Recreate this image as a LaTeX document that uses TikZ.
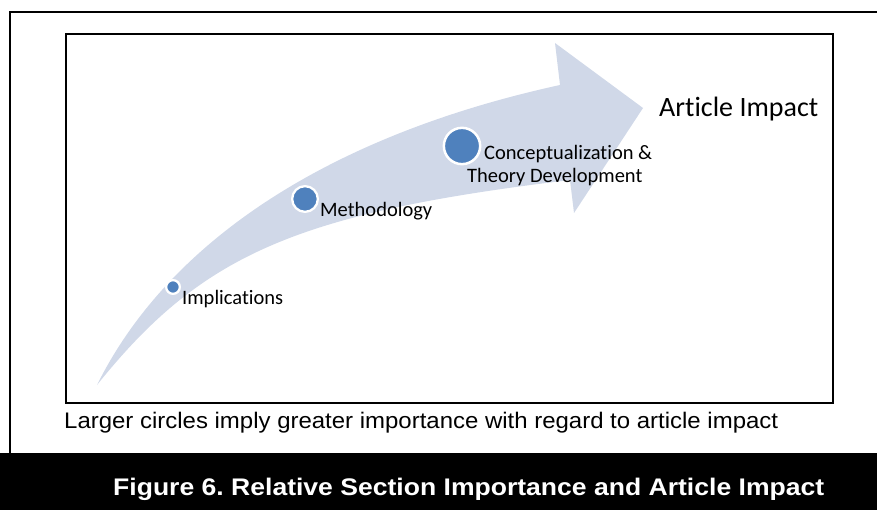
\documentclass[tikz,border=0pt]{standalone}
\usepackage{fontspec}
\usepackage{graphicx}
\newfontfamily\calibrif[RawFeature={-liga}]{Carlito}
\newfontfamily\arialf{Liberation Sans}
\definecolor{bandcol}{HTML}{D0D8E8}
\definecolor{dotcol}{HTML}{4F81BD}
\frenchspacing
\begin{document}
\begin{tikzpicture}[x=1pt,y=-1pt,
  frame/.style={draw=black,line width=2pt},
  dot/.style={circle,fill=dotcol,draw=white,inner sep=0pt},
  lbl/.style={inner sep=0pt,anchor=base west,font=\calibrif\fontsize{20.5}{24}\selectfont},
]
\useasboundingbox (0,0) rectangle (877,510);
% black band
\fill[black] (0,452.7) rectangle (877,510);
% outer frame (open on the right)
\draw[frame] (10,452.7) -- (10,12.5) -- (877,12.5);
% inner frame
\draw[frame] (66,34) rectangle (833,403);
% curved arrow
\fill[bandcol] (97,385) .. controls (169,240) and (331,135) .. (560,85)
  -- (555,43) -- (643,108) -- (574,213) -- (570,180)
  .. controls (297,213) and (202,254) .. (97,385) -- cycle;
% circles
\node[dot,minimum size=13.7pt,line width=2.3pt] (imp) at (173,287) {};
\node[dot,minimum size=25.7pt,line width=2.3pt] (met) at (305,199) {};
\node[dot,minimum size=36.3pt,line width=2.5pt] (con) at (462,146) {};
% labels
\node[lbl] (impl) at (182,305) {Implications};
\node[lbl] (metl) at (320,216.7) {Methodology};
\node[lbl] (conl1) at (484,160) {Conceptualization \&};
\node[lbl] (conl2) at (467,182.7) {Theory Development};
\node[inner sep=0pt,anchor=base west,font=\calibrif\fontsize{28}{32}\selectfont] (art) at (659,117) {Article Impact};
% caption
\node[inner sep=0pt,anchor=base west,font=\arialf\fontsize{22.5}{26}\selectfont] (cap) at (64,428)
  {\resizebox{714pt}{\height}{Larger circles imply greater importance with regard to article impact}};
% title
\node[inner sep=0pt,anchor=base west,text=white,font=\arialf\bfseries\fontsize{24}{28}\selectfont] (ttl) at (113,495.5)
  {\resizebox{711pt}{\height}{Figure 6. Relative Section Importance and Article Impact}};
\end{tikzpicture}
\end{document}
